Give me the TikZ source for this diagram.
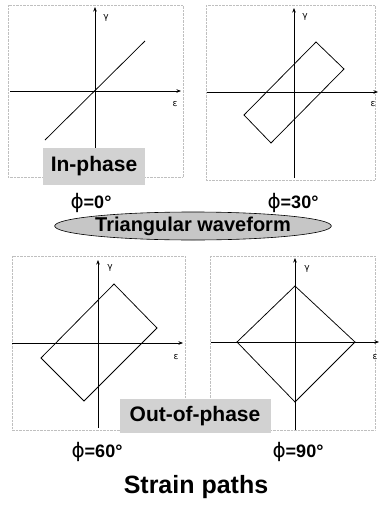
\documentclass[tikz,border=0pt]{standalone}
\usepackage{fontspec}
\setmainfont{Liberation Sans}
\newfontfamily\grk{DejaVu Sans}
\usetikzlibrary{arrows.meta,shapes.geometric}

\begin{document}
\begin{tikzpicture}[x=1pt, y=-1pt,
  panel/.style={draw=gray!50, densely dotted, thin},
  axis/.style={-{Stealth[length=4.5pt,width=3.5pt]}, line width=0.6pt},
  loop/.style={line width=0.75pt, line join=miter},
  tag/.style={fill=gray!35, font=\fontsize{21}{21}\selectfont\bfseries, inner sep=0pt},
  ang/.style={font=\fontsize{18}{18}\selectfont\bfseries},
  ax/.style={font=\grk\fontsize{9}{9}\selectfont, inner sep=1pt}
]
  \useasboundingbox (0,0) rectangle (378,506);

  % frames round the four plots
  \draw[panel] (8,5)    rectangle (183,177);
  \draw[panel] (206,5)  rectangle (375,180);
  \draw[panel] (12,256) rectangle (185,430);
  \draw[panel] (210,256) rectangle (375,430);

  % phi = 0 : in-phase
  \draw[axis] (10,91) -- (181,91);
  \draw[axis] (95,160) -- (95,7);
  \node[ax] (g0) at (106,18)  {γ};
  \node[ax] (e0) at (175,104) {ε};
  \draw[loop] (45,140) -- (145,41);
  \node[tag, minimum width=102, minimum height=37] (inph) at (94,166) {In-phase};
  \node[ang] (p0) at (91,203) {{\grk\mdseries\fontsize{20}{20}\selectfont ϕ}=0°};

  % phi = 30
  \draw[axis] (207,92) -- (378,92);
  \draw[axis] (294,178) -- (294,8);
  \node[ax] (g30) at (305,17)  {γ};
  \node[ax] (e30) at (373,104) {ε};
  \draw[loop] (316,42) -- (344,69) -- (271,143) -- (244,115) -- cycle;
  \node[ang] (p30) at (293,203) {{\grk\mdseries\fontsize{20}{20}\selectfont ϕ}=30°};

  \node[draw, ellipse, fill=gray!45, line width=0.6pt, minimum width=230, minimum height=28,
        inner sep=0pt, font=\fontsize{20}{20}\selectfont\bfseries] (wave) at (193,226)
        {Triangular waveform};

  % phi = 60
  \draw[axis] (12,343) -- (183,343);
  \draw[axis] (98,428) -- (98,260);
  \node[ax] (g60) at (110,268) {γ};
  \node[ax] (e60) at (176,357) {ε};
  \draw[loop] (114,284) -- (157,328) -- (84,401) -- (41,358) -- cycle;
  \node[ang] (p60) at (97,452) {{\grk\mdseries\fontsize{20}{20}\selectfont ϕ}=60°};

  % phi = 90
  \draw[axis] (211,342) -- (379,342);
  \draw[axis] (295,430) -- (295,258);
  \node[ax] (g90) at (307,269) {γ};
  \node[ax] (e90) at (375,357) {ε};
  \draw[loop] (295,286) -- (355,342) -- (295,402) -- (237,342) -- cycle;
  \node[ang] (p90) at (298,452) {{\grk\mdseries\fontsize{20}{20}\selectfont ϕ}=90°};

  \node[tag, minimum width=151, minimum height=34] (outph) at (195,416) {Out-of-phase};

  \node[font=\fontsize{25}{25}\selectfont\bfseries] (title) at (196,487) {Strain paths};
\end{tikzpicture}
\end{document}
